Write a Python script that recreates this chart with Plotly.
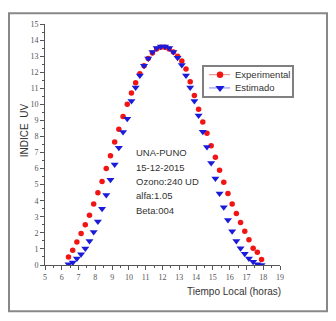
import plotly.graph_objects as go

hours = [6.40, 6.65, 6.90, 7.15, 7.40, 7.65, 7.90, 8.15, 8.40, 8.65, 8.90, 9.15,
         9.40, 9.65, 9.90, 10.15, 10.40, 10.65, 10.90, 11.15, 11.40, 11.65, 11.90,
         12.15, 12.40, 12.65, 12.90, 13.15, 13.40, 13.65, 13.90, 14.15, 14.40, 14.65,
         14.90, 15.15, 15.40, 15.65, 15.90, 16.15, 16.40, 16.65, 16.90, 17.15, 17.40,
         17.65, 17.90]

experimental = [0.50, 0.92, 1.43, 1.96, 2.50, 3.10, 3.80, 4.50, 5.20, 6.00, 6.80, 7.65,
                8.45, 9.25, 10.00, 10.70, 11.35, 11.90, 12.40, 12.85, 13.20, 13.45, 13.55,
                13.55, 13.45, 13.25, 13.00, 12.70, 12.20, 11.40, 10.55, 9.70, 8.90, 8.20,
                7.42, 6.70, 5.90, 5.15, 4.45, 3.80, 3.20, 2.65, 2.10, 1.57, 1.05,
                0.80, 0.35]

estimado = [0.05, 0.15, 0.40, 0.67, 1.02, 1.50, 2.05, 2.70, 3.50, 4.35, 5.30, 6.25,
            7.30, 8.28, 9.10, 10.20, 11.05, 11.80, 12.40, 12.85, 13.25, 13.50, 13.60,
            13.60, 13.50, 13.25, 12.90, 12.45, 11.80, 11.05, 10.20, 9.30, 8.30, 7.35,
            6.35, 5.38, 4.45, 3.60, 2.80, 2.10, 1.50, 1.05, 0.70, 0.40, 0.20,
            0.05, 0.00]

series_names = ["Experimental", "Estimado"]
info_lines = ["UNA-PUNO", "15-12-2015", "Ozono:240 UD", "alfa:1.05", "Beta:004"]

RED = "#f01414"
BLUE = "#1a1ad8"

# helpers: page pixel -> paper fraction (plot area at page x 45..280, y 20..265)
def px(x):
    return (x - 45) / 235


def py(y):
    return (265 - y) / 245


fig = go.Figure()
fig.add_trace(go.Scatter(x=hours, y=experimental, mode="markers", showlegend=False,
                         name=series_names[0],
                         marker=dict(color=RED, size=5.5, symbol="circle")))
fig.add_trace(go.Scatter(x=hours, y=estimado, mode="markers", showlegend=False,
                         name=series_names[1],
                         marker=dict(color=BLUE, size=7, symbol="triangle-down")))

# legend frame: an empty bordered annotation box
fig.add_annotation(text=" ", xref="paper", yref="paper", x=px(202), y=py(62),
                   xanchor="left", yanchor="top", showarrow=False,
                   width=88, height=29, bordercolor="#808080", borderwidth=2,
                   borderpad=0, bgcolor="rgba(255,255,255,0)")

# Origin-style legend (line + symbol), drawn on an overlay axis in paper units
leg_rows = [(py(71.5), RED, "#f08080", "circle", 6.5),
            (py(85), BLUE, "#8080f0", "triangle-down", 8)]
for (yy, mc, lc, sym, sz), nm in zip(leg_rows, series_names):
    fig.add_trace(go.Scatter(x=[px(209), px(230)], y=[yy, yy], mode="lines",
                             line=dict(color=lc, width=1), showlegend=False,
                             xaxis="x2", yaxis="y2", hoverinfo="skip"))
    fig.add_trace(go.Scatter(x=[px(220)], y=[yy], mode="markers",
                             marker=dict(color=mc, size=sz, symbol=sym), showlegend=False,
                             xaxis="x2", yaxis="y2", hoverinfo="skip"))
    fig.add_annotation(text=nm, xref="paper", yref="paper", x=px(233), y=yy,
                       xanchor="left", yanchor="middle", showarrow=False,
                       font=dict(family="Liberation Sans", size=9.5, color="#333333"))

tickfont = dict(family="Liberation Serif", size=8, color="#555555")
axis_common = dict(showgrid=False, zeroline=False, showline=True, linecolor="#555555",
                   linewidth=1, ticks="outside", ticklen=4, tickcolor="#555555",
                   tickfont=tickfont)

# page has an 8px body margin: figure is 320x305, plot area at page (45..280, 20..265)
fig.update_layout(
    width=320, height=305,
    margin=dict(l=37, r=48, t=12, b=48),
    paper_bgcolor="white", plot_bgcolor="white",
    showlegend=False,
    xaxis=dict(range=[5, 19], dtick=1, tick0=5,
               minor=dict(dtick=0.5, ticks="outside", ticklen=2, tickcolor="#555555"),
               **axis_common),
    yaxis=dict(range=[0, 15], dtick=1, tick0=0,
               minor=dict(dtick=0.5, ticks="outside", ticklen=2, tickcolor="#555555"),
               **axis_common),
    xaxis2=dict(overlaying="x", range=[0, 1], visible=False),
    yaxis2=dict(overlaying="y", range=[0, 1], visible=False),
    font=dict(family="Liberation Sans"),
)

# x axis title at right
fig.add_annotation(text="Tiempo Local (horas)", xref="paper", yref="paper",
                   x=px(234), y=py(292), showarrow=False,
                   xanchor="center", yanchor="middle",
                   font=dict(family="Liberation Sans", size=10, color="#333333"))
# y axis title
fig.add_annotation(text="INDICE  UV", xref="paper", yref="paper",
                   x=px(24), y=py(128), showarrow=False, textangle=-90,
                   xanchor="center", yanchor="middle",
                   font=dict(family="Liberation Sans", size=10, color="#333333"))
# info block
for i, line in enumerate(info_lines):
    fig.add_annotation(text=line, xref="paper", yref="paper",
                       x=px(134), y=py(151 + i * 14.6),
                       xanchor="left", yanchor="middle", showarrow=False,
                       font=dict(family="Liberation Sans", size=9.5, color="#333333"))

# outer frame (as close to the page edge as the figure allows)
fig.add_shape(type="rect", xref="paper", yref="paper",
              x0=px(9), x1=px(327), y0=py(312), y1=py(9),
              line=dict(color="#888888", width=2))

fig.write_html("out.html")
